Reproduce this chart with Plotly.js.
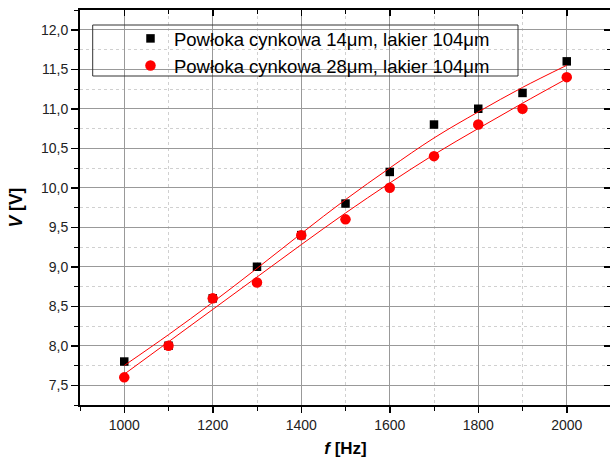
<!DOCTYPE html>
<html>
<head>
<meta charset="utf-8">
<script src="https://cdn.plot.ly/plotly-3.0.1.min.js"></script>
<style>
html,body{margin:0;padding:0;overflow:hidden;background:#fff;}
#chart{width:612px;height:461px;}
</style>
</head>
<body>
<div id="chart"></div>
<script>
// Data
const freq = [1000, 1100, 1200, 1300, 1400, 1500, 1600, 1700, 1800, 1900, 2000];
const v14 = [7.8, 8.0, 8.6, 9.0, 9.4, 9.8, 10.2, 10.8, 11.0, 11.2, 11.6];
const v28 = [7.6, 8.0, 8.6, 8.8, 9.4, 9.6, 10.0, 10.4, 10.8, 11.0, 11.4];
const fit14 = [7.75, 8.14, 8.55, 8.98, 9.42, 9.85, 10.25, 10.63, 10.96, 11.27, 11.55];
const fit28 = [7.64, 8.05, 8.46, 8.87, 9.28, 9.68, 10.06, 10.42, 10.75, 11.07, 11.38];
const name14 = 'Powłoka cynkowa 14μm, lakier 104μm';
const name28 = 'Powłoka cynkowa 28μm, lakier 104μm';
const xTitle = '<b><i>f</i> [Hz]</b>';
const yTitle = '<b><i>V</i> [V]</b>';

const FONT = 'Arial, "Liberation Sans", sans-serif';

const traces = [
  {x: freq, y: v14, type: 'scatter', mode: 'markers', name: name14,
   marker: {symbol: 'square', size: 8.5, color: '#000'}},
  {x: freq, y: v28, type: 'scatter', mode: 'markers', name: name28,
   marker: {symbol: 'circle', size: 10.5, color: '#ff0000'}},
  {x: freq, y: fit14, type: 'scatter', mode: 'lines', showlegend: false,
   line: {color: '#ff0000', width: 1, shape: 'spline'}},
  {x: freq, y: fit28, type: 'scatter', mode: 'lines', showlegend: false,
   line: {color: '#ff0000', width: 1, shape: 'spline'}},
  {x: freq, y: v14, type: 'scatter', mode: 'markers', xaxis: 'x2', yaxis: 'y2',
   showlegend: false, hoverinfo: 'skip', marker: {opacity: 0}}
];

const xr = [900, 2100], yr = [7.25, 12.25];

const layout = {
  width: 612, height: 461,
  margin: {l: 80, r: 1, t: 10, b: 56},
  paper_bgcolor: '#fff', plot_bgcolor: '#fff',
  separators: ', ',
  font: {family: FONT, color: '#222', size: 14},
  showlegend: true,
  legend: {x: 0.0885, y: 0.975, xanchor: 'left', yanchor: 'top',
    bgcolor: 'rgba(0,0,0,0)', borderwidth: 0, itemwidth: 37,
    font: {family: FONT, size: 18.5, color: '#000'}, tracegroupgap: 0},
  shapes: [
    {type: 'rect', xref: 'paper', yref: 'paper', x0: 12.7/531, x1: 438/531,
     y0: 1 - 66/395, y1: 1 - 15/395, line: {color: '#333', width: 1}, fillcolor: 'rgba(0,0,0,0)', layer: 'above'}
  ],
  xaxis: {
    range: xr, autorange: false, dtick: 200, tick0: 1000,
    ticks: 'outside', ticklen: 6, tickwidth: 1.5, tickcolor: '#000',
    showline: true, linecolor: '#000', linewidth: 2, mirror: false,
    showgrid: true, gridcolor: '#999', gridwidth: 1,
    zeroline: false,
    tickfont: {family: FONT, size: 14, color: '#222'},
    minor: {dtick: 100, tick0: 1000, ticks: 'outside', ticklen: 4, tickwidth: 1, tickcolor: '#000',
      showgrid: true, gridcolor: '#d0d0d0', griddash: 'dot', gridwidth: 1},
    title: {text: xTitle, font: {family: FONT, size: 17, color: '#000'}, standoff: 10}
  },
  yaxis: {
    range: yr, autorange: false, dtick: 0.5, tick0: 7.5, tickformat: '.1f',
    ticks: 'outside', ticklen: 7, tickwidth: 1.5, tickcolor: '#000',
    showline: true, linecolor: '#000', linewidth: 2, mirror: false,
    showgrid: true, gridcolor: '#999', gridwidth: 1,
    zeroline: false,
    tickfont: {family: FONT, size: 14, color: '#222'},
    minor: {dtick: 0.25, tick0: 7.25, ticks: 'outside', ticklen: 4, tickwidth: 1, tickcolor: '#000',
      showgrid: true, gridcolor: '#d0d0d0', griddash: 'dot', gridwidth: 1},
    title: {text: yTitle, font: {family: FONT, size: 17.5, color: '#000'}, standoff: 14}
  },
  xaxis2: {
    overlaying: 'x', side: 'top', range: xr, autorange: false, dtick: 200, tick0: 1000,
    ticks: 'inside', ticklen: 6, tickwidth: 1.5, tickcolor: '#000',
    showticklabels: false, showgrid: false, zeroline: false,
    showline: true, linecolor: '#000', linewidth: 2,
    minor: {dtick: 100, tick0: 1000, ticks: 'inside', ticklen: 4, tickwidth: 1, tickcolor: '#000', showgrid: false}
  },
  yaxis2: {
    overlaying: 'y', side: 'right', range: yr, autorange: false, dtick: 0.5, tick0: 7.5,
    ticks: 'inside', ticklen: 7, tickwidth: 1.5, tickcolor: '#000',
    showticklabels: false, showgrid: false, zeroline: false,
    showline: true, linecolor: '#000', linewidth: 2,
    minor: {dtick: 0.25, tick0: 7.25, ticks: 'inside', ticklen: 4, tickwidth: 1, tickcolor: '#000', showgrid: false}
  }
};

Plotly.newPlot('chart', traces, layout, {displayModeBar: false, staticPlot: true});
</script>
</body>
</html>
